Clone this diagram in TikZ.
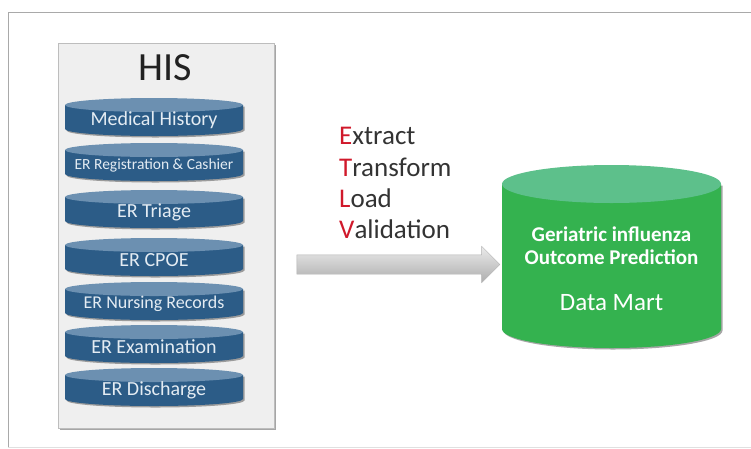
\documentclass[tikz,border=0pt]{standalone}
\usepackage{fontspec}
\setmainfont{Carlito}
\usetikzlibrary{shadows,shapes.arrows}

\definecolor{framegray}{HTML}{A9A9A9}
\definecolor{panelfill}{HTML}{EFEFEF}
\definecolor{panelline}{HTML}{BDBDBD}
\definecolor{drumbody}{HTML}{2C5C87}
\definecolor{drumtop}{HTML}{6C90B1}
\definecolor{drumtext}{HTML}{E4ECF3}
\definecolor{martbody}{HTML}{34B24F}
\definecolor{marttop}{HTML}{5DC08B}
\definecolor{etlred}{HTML}{D0192B}
\definecolor{etltext}{HTML}{333333}

\tikzset{
  drumlabel/.style={text=drumtext, inner sep=0pt, font=\fontsize{20}{22}\selectfont},
  etl/.style={anchor=base west, inner sep=0pt, text=etltext, font=\fontsize{27}{29}\selectfont},
  martlabel/.style={text=white, inner sep=0pt, align=center},
  softshadow/.style={drop shadow={shadow xshift=1.5pt, shadow yshift=-1.5pt, opacity=0.35, fill=black}},
}

% small database drum: #1 name, #2 top edge y, #3 label, #4 font size
\newcommand\dbdrum[4]{%
  \fill[drumbody, softshadow]
    (65,#2+7) rectangle (243,#2+31)
    (154,#2+31) ellipse[x radius=89pt, y radius=7pt];
  \fill[drumtop] (154,#2+7) ellipse[x radius=89pt, y radius=7pt];
  \node[drumlabel, font=\fontsize{#4}{#4}\selectfont] (#1) at (154,#2+22) {#3};
}

\begin{document}
\begin{tikzpicture}[x=1pt, y=-1pt]
  \useasboundingbox (0,0) rectangle (751,448);

  % outer frame
  \draw[framegray, line width=1pt] (8,447) -- (8,12) -- (751,12);
  \draw[black!12, line width=1pt] (8,447) -- (751,447);

  % HIS panel
  \node[draw=panelline, fill=panelfill, softshadow, minimum width=216pt,
        minimum height=385pt, inner sep=0pt, anchor=north west] (his) at (58,43) {};
  \node[inner sep=0pt, text=black!87, font=\fontsize{40}{42}\selectfont] (histitle) at (165,68) {HIS};

  \dbdrum{medhist}{98}{Medical History}{20}
  \dbdrum{registration}{143}{ER Registration \& Cashier}{15.5}
  \dbdrum{triage}{190}{ER Triage}{20}
  \dbdrum{cpoe}{238}{ER CPOE}{20}
  \dbdrum{nursing}{282}{ER Nursing Records}{18}
  \dbdrum{exam}{325}{ER Examination}{20}
  \dbdrum{discharge}{368}{ER Discharge}{20}

  % ETL steps
  \node[etl] (extract)    at (339,144) {\textcolor{etlred}{E}xtract};
  \node[etl] (transform)  at (339,176) {\textcolor{etlred}{T}ransform};
  \node[etl] (load)       at (339,207) {\textcolor{etlred}{L}oad};
  \node[etl] (validation) at (339,238) {\textcolor{etlred}{V}alidation};

  % flow arrow
  \node[single arrow, minimum height=203pt, minimum width=36pt, inner xsep=0pt,
        inner ysep=9.5pt, single arrow head extend=8.5pt, draw=black!30,
        top color=black!8, bottom color=black!32] (flow) at (393.5,264.5) {};

  % data mart drum
  \fill[martbody, softshadow]
    (502,184) rectangle (721,329)
    (611.5,329) ellipse[x radius=109.5pt, y radius=19pt];
  \fill[marttop] (611.5,184) ellipse[x radius=109.5pt, y radius=19pt];
  \node[martlabel, font=\bfseries\fontsize{21}{23}\selectfont] (mart) at (611.5,246)
    {Geriatric influenza\\Outcome Prediction};
  \node[martlabel, font=\fontsize{25}{27}\selectfont] (martname) at (611.5,303) {Data Mart};
\end{tikzpicture}
\end{document}
